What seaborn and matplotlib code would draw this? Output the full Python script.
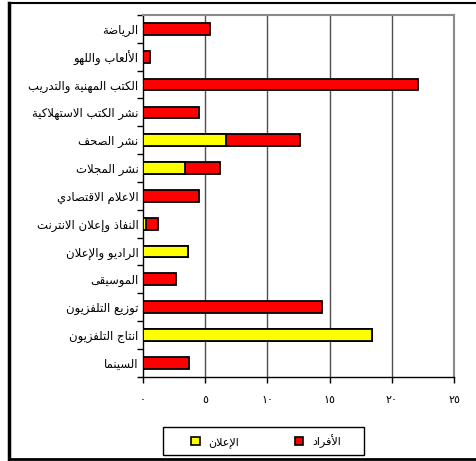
import matplotlib
matplotlib.use("Agg")
import matplotlib.pyplot as plt
from matplotlib.patches import Patch, Rectangle
from matplotlib.lines import Line2D
import seaborn as sns
import pandas as pd

# Sectors, listed top to bottom
categories = [
    "الرياضة",
    "الألعاب واللهو",
    "الكتب المهنية والتدريب",
    "نشر الكتب الاستهلاكية",
    "نشر الصحف",
    "نشر المجلات",
    "الاعلام الاقتصادي",
    "النفاذ وإعلان الانترنت",
    "الراديو والإعلان",
    "الموسيقى",
    "توزيع التلفزيون",
    "انتاج التلفزيون",
    "السينما",
]
# Revenue from advertising (yellow) and from individuals (red)
advertising = [0, 0, 0, 0, 6.7, 3.4, 0, 0.25, 3.6, 0, 0, 18.4, 0]
individuals = [5.4, 0.6, 22.1, 4.5, 5.9, 2.8, 4.5, 1.0, 0, 2.7, 14.4, 0, 3.7]

legend_labels = ["الإعلان", "الأفراد"]
x_tick_labels = ["٠", "٥", "١٠", "١٥", "٢٠", "٢٥"]

# matplotlib has no Arabic shaping, so letters are converted to their
# contextual presentation forms and the string is reversed for display.
ARABIC_FORMS = {
    'ا': (0xFE8D, 2), 'أ': (0xFE83, 2), 'إ': (0xFE87, 2), 'آ': (0xFE81, 2),
    'ب': (0xFE8F, 4), 'ة': (0xFE93, 2), 'ت': (0xFE95, 4), 'ث': (0xFE99, 4),
    'ج': (0xFE9D, 4), 'ح': (0xFEA1, 4), 'خ': (0xFEA5, 4), 'د': (0xFEA9, 2),
    'ذ': (0xFEAB, 2), 'ر': (0xFEAD, 2), 'ز': (0xFEAF, 2), 'س': (0xFEB1, 4),
    'ش': (0xFEB5, 4), 'ص': (0xFEB9, 4), 'ض': (0xFEBD, 4), 'ط': (0xFEC1, 4),
    'ظ': (0xFEC5, 4), 'ع': (0xFEC9, 4), 'غ': (0xFECD, 4), 'ف': (0xFED1, 4),
    'ق': (0xFED5, 4), 'ك': (0xFED9, 4), 'ل': (0xFEDD, 4), 'م': (0xFEE1, 4),
    'ن': (0xFEE5, 4), 'ه': (0xFEE9, 4), 'و': (0xFEED, 2), 'ى': (0xFEEF, 2),
    'ي': (0xFEF1, 4),
}
LAM_ALEF = {'آ': 0xFEF5, 'أ': 0xFEF7, 'إ': 0xFEF9, 'ا': 0xFEFB}


def shape(text):
    units = []
    i = 0
    while i < len(text):
        c = text[i]
        if c == 'ل' and i + 1 < len(text) and text[i + 1] in LAM_ALEF:
            units.append(('lamalef', text[i + 1]))
            i += 2
        else:
            units.append(('char', c))
            i += 1

    def joins_forward(u):
        return u is not None and u[0] == 'char' and ARABIC_FORMS.get(u[1], (0, 0))[1] == 4

    def is_letter(u):
        return u is not None and (u[0] == 'lamalef' or u[1] in ARABIC_FORMS)

    out = []
    for k, (kind, c) in enumerate(units):
        prev = units[k - 1] if k > 0 else None
        nxt = units[k + 1] if k + 1 < len(units) else None
        jp = joins_forward(prev)
        if kind == 'lamalef':
            out.append(chr(LAM_ALEF[c] + (1 if jp else 0)))
            continue
        if c not in ARABIC_FORMS:
            out.append(c)
            continue
        base, n = ARABIC_FORMS[c]
        jn = n == 4 and is_letter(nxt)
        if jp and jn:
            off = 3
        elif jp:
            off = 1
        elif jn:
            off = 2
        else:
            off = 0
        out.append(chr(base + off))
    return ''.join(reversed(out))


plt.rcParams['font.family'] = ['DejaVu Sans']

df = pd.DataFrame({
    "sector": [shape(c) for c in categories],
    "advertising": advertising,
    "total": [a + b for a, b in zip(advertising, individuals)],
})

RED = "#FF0000"
YELLOW = "#FFFF00"
W, H = 476, 461

fig = plt.figure(figsize=(W / 100, H / 100), dpi=100)
ax = fig.add_axes([142.7 / W, 1 - 376.7 / H, (454.3 - 142.7) / W, (376.7 - 15) / H])

bar_kw = dict(orient="h", saturation=1, edgecolor="black", linewidth=1.3, width=0.42, ax=ax, zorder=3)
sns.barplot(data=df, x="total", y="sector", color=RED, **bar_kw)
sns.barplot(data=df, x="advertising", y="sector", color=YELLOW, **bar_kw)

ax.set_xlim(0, 25)
ax.set_ylim(len(categories) - 0.5, -0.5)
ax.set_xlabel("")
ax.set_ylabel("")

ax.set_xticks(range(0, 26, 5))
ax.set_xticklabels(x_tick_labels, fontsize=8)
ax.tick_params(axis="x", direction="out", length=4, width=1, pad=9, color="black")

# category labels at bar centres, small ticks at category boundaries
ax.tick_params(axis="y", which="major", length=0, pad=3, labelsize=8.4)
ax.set_yticks([i + 0.5 for i in range(-1, len(categories))], minor=True)
ax.tick_params(axis="y", which="minor", direction="out", length=4, width=1, color="black")

for xv in range(5, 25, 5):
    ax.axvline(xv, color="#505050", linewidth=1, zorder=1)

for side in ("left", "bottom"):
    ax.spines[side].set_color("black")
    ax.spines[side].set_linewidth(1)
for side in ("top", "right"):
    ax.spines[side].set_color("#8a8a8a")
    ax.spines[side].set_linewidth(1.5)

# legend entries, with the box drawn as its own rectangle
handles = [
    Patch(facecolor=YELLOW, edgecolor="black", linewidth=1.2),
    Patch(facecolor=RED, edgecolor="black", linewidth=1.2),
]
fig.legend(
    handles, [shape(t) for t in legend_labels],
    ncol=2, loc="center",
    bbox_to_anchor=(266 / W, 1 - 441 / H),
    frameon=False, fontsize=8,
    handlelength=0.75, handleheight=0.75, handletextpad=0.8,
    columnspacing=5.0, borderpad=0, borderaxespad=0,
)
fig.add_artist(Rectangle((162.5 / W, 1 - 455 / H), (364 - 162.5) / W, 28 / H,
                         transform=fig.transFigure, facecolor="none",
                         edgecolor="black", linewidth=1))

# outer frame of the figure
fig.add_artist(Line2D([9 / W, 9 / W], [1 - 3 / H, 1 - 459 / H], color="black", linewidth=2.5))
fig.add_artist(Line2D([9 / W, 1], [1 - 3 / H, 1 - 3 / H], color="black", linewidth=1.5))
fig.add_artist(Line2D([9 / W, 1], [1 - 459 / H, 1 - 459 / H], color="black", linewidth=2))

fig.savefig("out.png", dpi=100, facecolor="white")
